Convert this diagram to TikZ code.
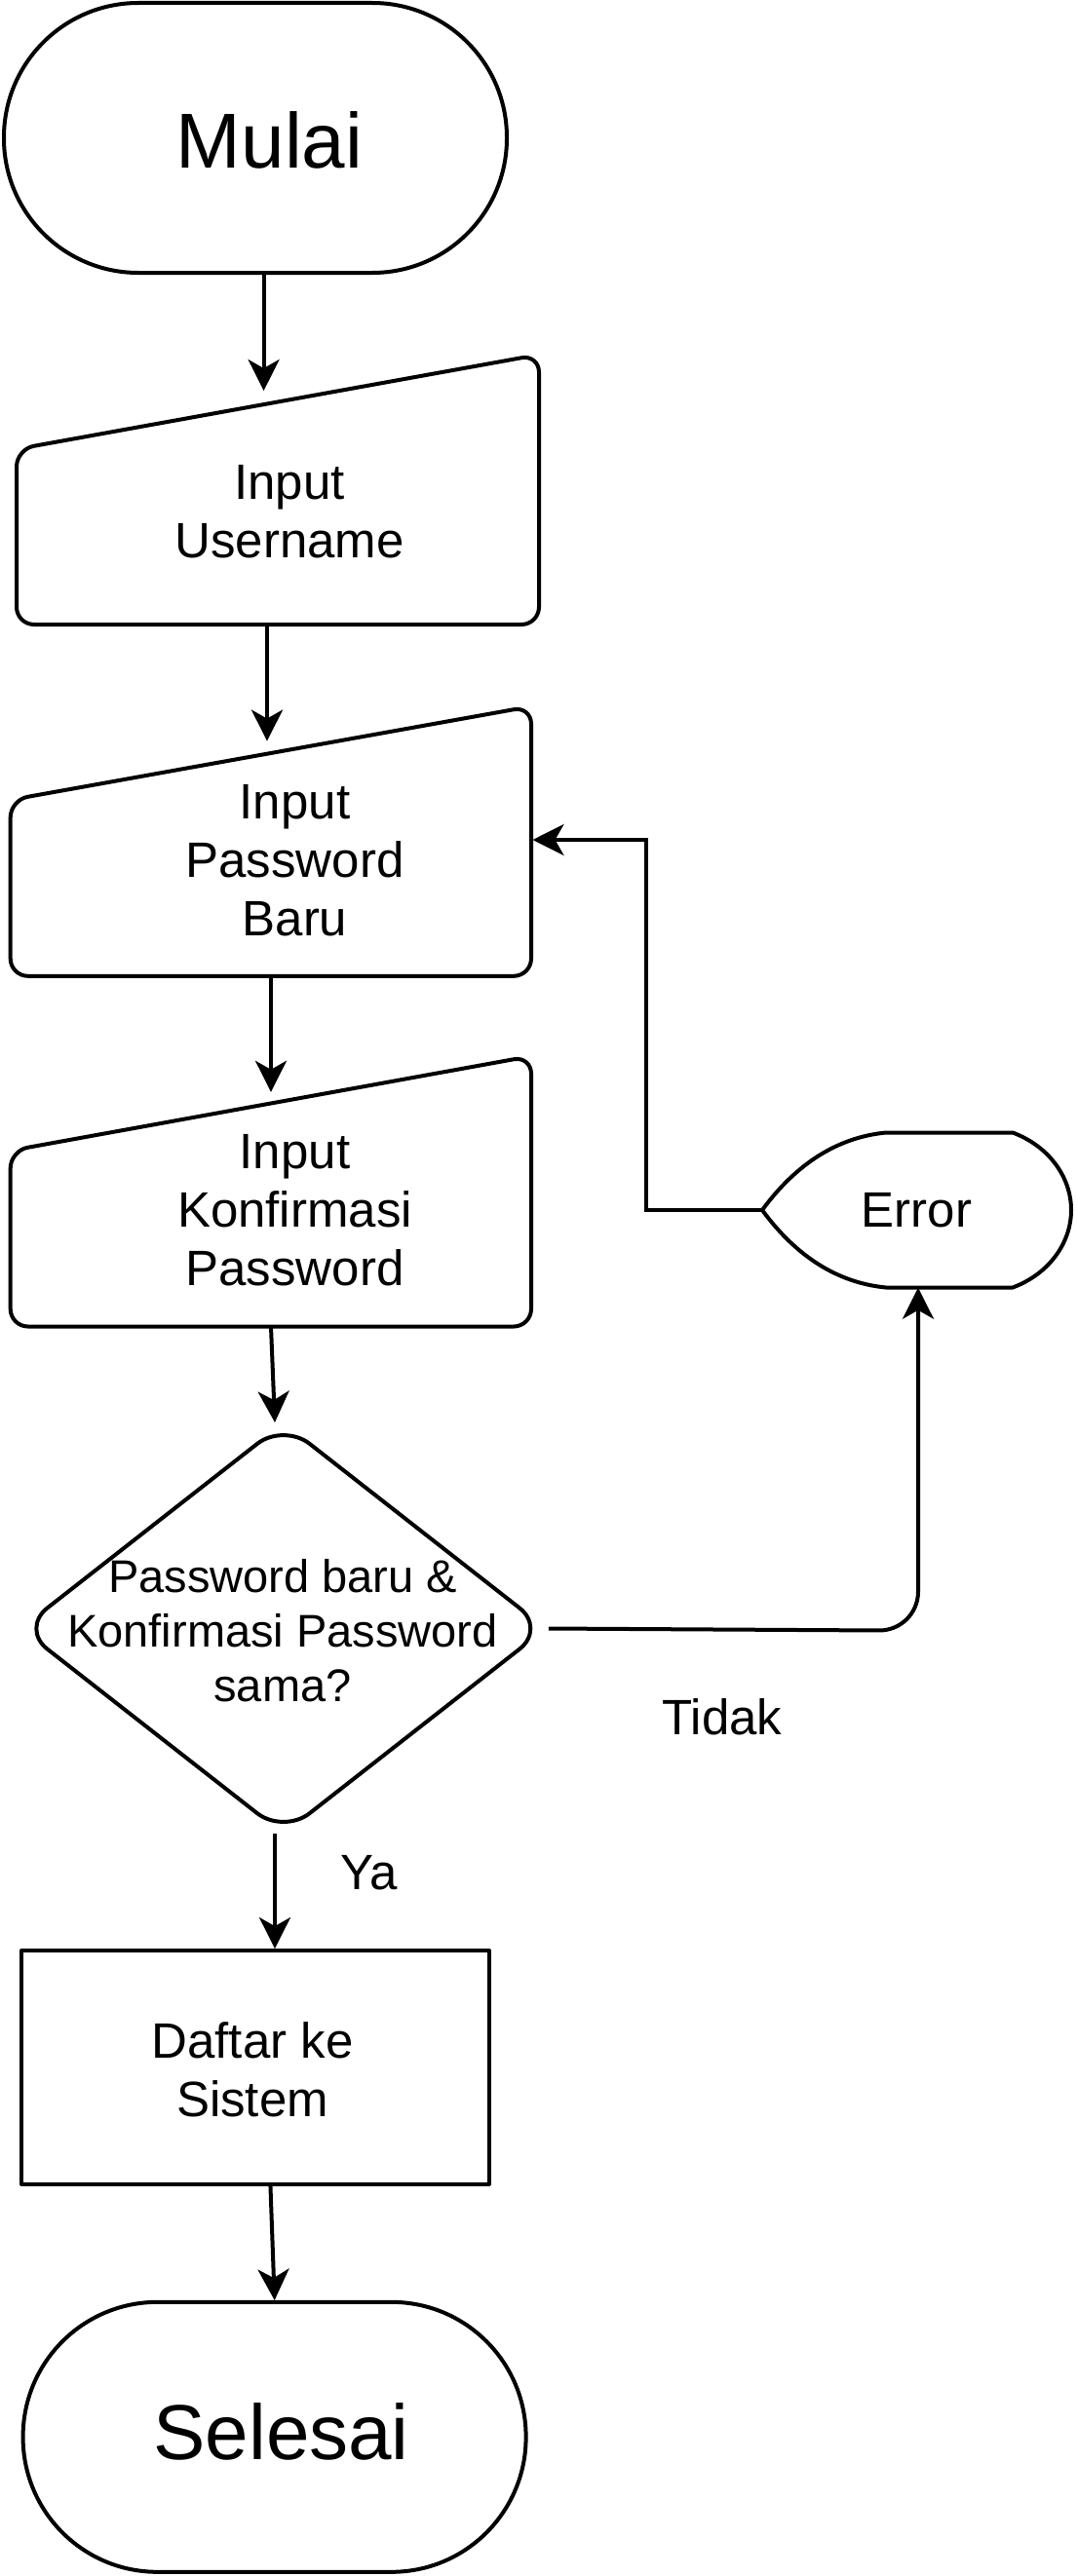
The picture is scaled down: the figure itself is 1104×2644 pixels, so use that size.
\documentclass[tikz,border=0pt]{standalone}
\usepackage{fontspec}
\setmainfont{Liberation Sans}
\usetikzlibrary{arrows.meta,shapes.geometric}
\begin{document}
\begin{tikzpicture}[x=1pt,y=-1pt,
  arr/.style={draw, line width=4pt, -{Stealth[length=32pt,width=32pt,inset=9pt]}},
  shp/.style={draw, line width=4pt, line join=round},
  term/.style={shp, rectangle, rounded corners=138pt, minimum width=516pt, minimum height=277pt, inner sep=0pt},
  ghost/.style={inner sep=0pt, draw=none},
  txt/.style={inner sep=0pt, align=center, font=\fontsize{51}{60}\selectfont},
  bigtxt/.style={inner sep=0pt, font=\fontsize{80}{90}\selectfont},
  dectxt/.style={inner sep=0pt, align=center, font=\fontsize{47}{55.6}\selectfont},
]
\fill[white] (0,0) rectangle (1104,2644);
\useasboundingbox (0,0) rectangle (1104,2644);

% Mulai
\node[term] (mulai) at (262,141.5) {};
\node[bigtxt, anchor=base] (mulaiT) at (276.5,172) {Mulai};

% Input Username
\node[ghost, minimum width=536pt, minimum height=277pt] (usr) at (285,502.5) {};
\draw[shp, rounded corners=18pt] (17,550) -- (17,461) -- (553,364) -- (553,641) -- (17,641) -- cycle;
\node[txt, anchor=base] (usrT) at (297,572) {Input\\Username};

% Input Password Baru
\node[ghost, minimum width=534pt, minimum height=277pt] (pwd) at (277.8,863.4) {};
\draw[shp, rounded corners=18pt] (10.7,910) -- (10.7,821) -- (545,725) -- (545,1001.8) -- (10.7,1001.8) -- cycle;
\node[txt, anchor=base] (pwdT) at (302.5,960) {Input\\Password\\Baru};

% Input Konfirmasi Password
\node[ghost, minimum width=534pt, minimum height=277pt] (knf) at (277.8,1222.8) {};
\draw[shp, rounded corners=18pt] (10.7,1270) -- (10.7,1181) -- (545,1084) -- (545,1361.5) -- (10.7,1361.5) -- cycle;
\node[txt, anchor=base] (knfT) at (302.5,1319.5) {Input\\Konfirmasi\\Password};

% Decision
\node[shp, diamond, minimum width=540pt, minimum height=423pt, inner sep=0pt, rounded corners=34pt] (dec) at (290.8,1671.5) {};
\node[dectxt, anchor=base] (decT) at (290,1746) {Password baru \&\\Konfirmasi Password\\sama?};

% Daftar ke Sistem
\node[shp, rectangle, minimum width=480pt, minimum height=239.5pt, inner sep=0pt] (daftar) at (262,2121.8) {};
\node[txt, anchor=base] (daftarT) at (259,2172.7) {Daftar ke\\Sistem};

% Selesai
\node[term] (sel) at (281.6,2501.3) {};
\node[bigtxt, anchor=base] (selT) at (288.6,2524) {Selesai};

% Error (display shape)
\node[ghost, minimum width=317pt, minimum height=159pt, font=\fontsize{51}{60}\selectfont] (err) at (940.5,1242) {Error};
\draw[shp] (782,1242) .. controls (817.3,1194) and (859.7,1167.3) .. (909,1162.5)
  -- (1039,1162.5) .. controls (1075.4,1176.1) and (1099,1207.4) .. (1099,1242)
  .. controls (1099,1276.6) and (1075.4,1307.9) .. (1039,1321.5)
  -- (909,1321.5) .. controls (859.7,1316.7) and (817.3,1290) .. (782,1242) -- cycle;

% connector points
\coordinate (usrIn) at (270.6,401);
\coordinate (pwdIn) at (274,760.6);
\coordinate (knfIn) at (278,1120.8);
\coordinate (decIn) at (282,1460);
\coordinate (decOut) at (282,1882);
\coordinate (daftarOut) at (277.4,2241.8);
\coordinate (selIn) at (281.7,2361);
\coordinate (cnr) at (942,1673.7);
\coordinate (loopX) at (662.6,862);
\coordinate (pwdR) at (546.5,862);

% connectors
\draw[arr] (mulai.south -| usrIn) -- (usrIn);
\draw[arr] (usr.south -| pwdIn) -- (pwdIn);
\draw[arr] (pwd.south -| knfIn) -- (knfIn);
\draw[arr] (knf.south -| knfIn) -- (decIn);
\draw[arr] (decOut) -- (daftar.north -| decOut);
\draw[arr] (daftarOut) -- (selIn);
\draw[arr, rounded corners=40pt] (dec.east) -- (cnr) -- (err.south -| cnr);
\draw[arr] (err.west) -| (loopX) -- (pwdR);

% labels
\node[txt, anchor=base] (tidak) at (741,1780.8) {Tidak};
\node[txt, anchor=base] (ya) at (379,1939.6) {Ya};
\end{tikzpicture}
\end{document}
